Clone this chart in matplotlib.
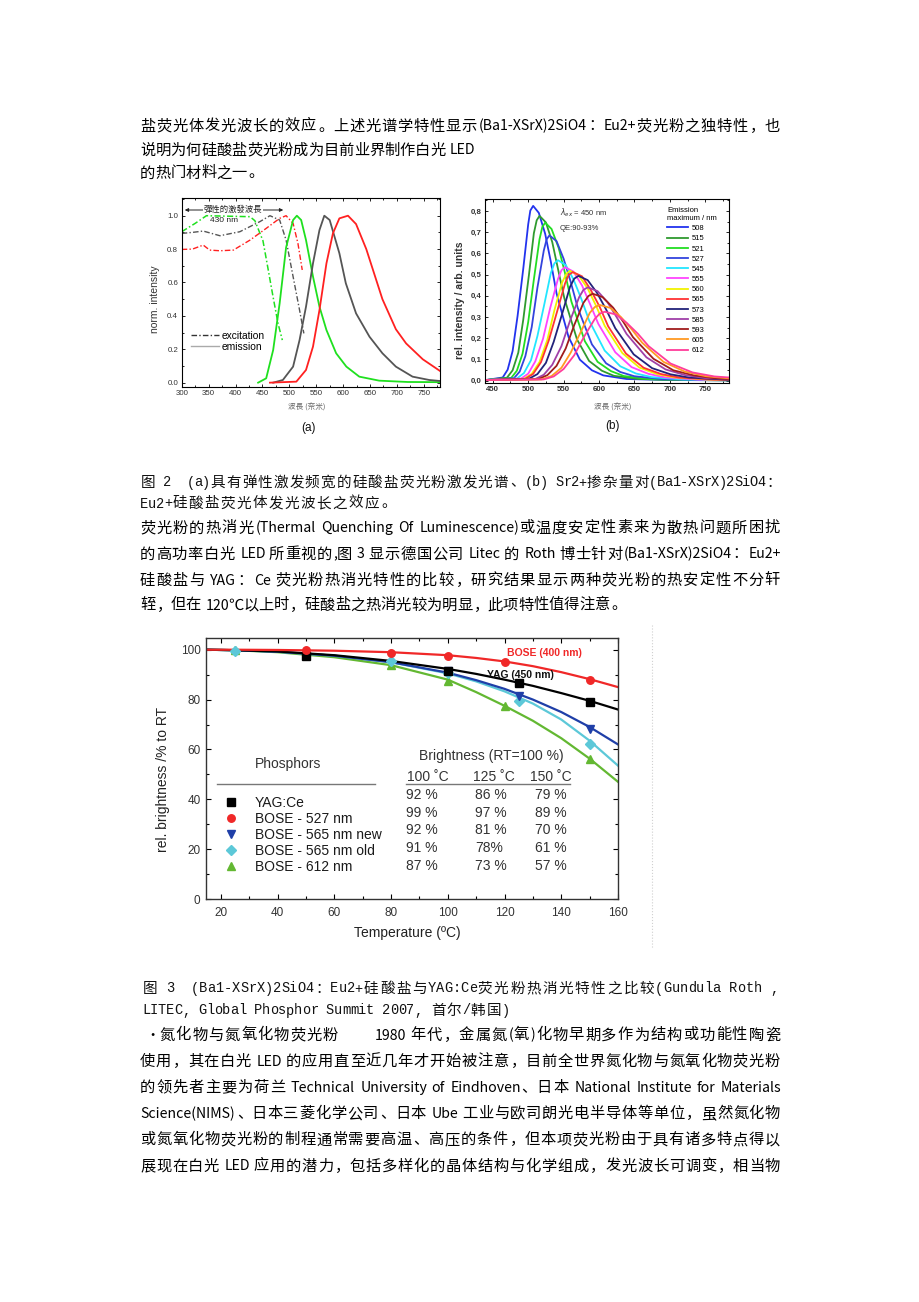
import matplotlib
matplotlib.use('Agg')
import matplotlib.pyplot as plt
from matplotlib.lines import Line2D
from matplotlib.patches import FancyArrowPatch
from matplotlib.ticker import MultipleLocator
from matplotlib.font_manager import FontProperties, findfont, get_font

W, H, DPI = 920, 1302, 100
SANS = 'Liberation Sans'
CJK = 'Noto Sans CJK SC'
CJK_TC = 'Noto Sans CJK TC'
MONO = 'Liberation Mono'
plt.rcParams['font.family'] = [SANS, CJK, 'DejaVu Sans']

# ====================== DATA ======================
# ---- document text ----
para1 = ["盐荧光体发光波长的效应。上述光谱学特性显示(Ba1-XSrX)2SiO4：Eu2+荧光粉之独特性，也",
         "说明为何硅酸盐荧光粉成为目前业界制作白光 LED",
         "的热门材料之一。"]
caption2 = ["图 2  (a)具有弹性激发频宽的硅酸盐荧光粉激发光谱、(b) Sr2+掺杂量对(Ba1-XSrX)2SiO4：",
            "Eu2+硅酸盐荧光体发光波长之效应。"]
para2 = ["荧光粉的热消光(Thermal Quenching Of Luminescence)或温度安定性素来为散热问题所困扰",
         "的高功率白光 LED 所重视的,图 3 显示德国公司 Litec 的 Roth 博士针对(Ba1-XSrX)2SiO4：Eu2+",
         "硅酸盐与 YAG：Ce 荧光粉热消光特性的比较，研究结果显示两种荧光粉的热安定性不分轩",
         "轾，但在 120℃以上时，硅酸盐之热消光较为明显，此项特性值得注意。"]
caption3 = ["图 3  (Ba1-XSrX)2SiO4：Eu2+硅酸盐与YAG:Ce荧光粉热消光特性之比较(Gundula Roth ,",
            "LITEC, Global Phosphor Summit 2007, 首尔/韩国)"]
para3 = ["· 氮化物与氮氧化物荧光粉        1980 年代，金属氮(氧)化物早期多作为结构或功能性陶瓷",
         "使用，其在白光 LED 的应用直至近几年才开始被注意，目前全世界氮化物与氮氧化物荧光粉",
         "的领先者主要为荷兰 Technical University of Eindhoven、日本 National Institute for Materials",
         "Science(NIMS)、日本三菱化学公司、日本 Ube 工业与欧司朗光电半导体等单位，虽然氮化物",
         "或氮氧化物荧光粉的制程通常需要高温、高压的条件，但本项荧光粉由于具有诸多特点得以",
         "展现在白光 LED 应用的潜力，包括多样化的晶体结构与化学组成，发光波长可调变，相当物"]

# ---- chart (a): normalized excitation / emission spectra ----
a_xticks = [300, 350, 400, 450, 500, 550, 600, 650, 700, 750]
a_yticks = [0.0, 0.2, 0.4, 0.6, 0.8, 1.0]
a_ytick_labels = ['0.0', '0.2', '0.4', '0.6', '0.8', '1.0']
a_exc_green_x = [300, 325, 346, 427, 436, 451, 460, 470, 479, 487]
a_exc_green_y = [0.904, 0.954, 1.0, 0.994, 0.97, 0.85, 0.69, 0.51, 0.355, 0.255]
a_exc_gray_x = [300, 320, 340, 371, 408, 445, 464, 482, 494, 507, 519, 527]
a_exc_gray_y = [0.894, 0.90, 0.908, 0.88, 0.904, 0.964, 1.0, 0.974, 0.854, 0.635, 0.435, 0.295]
a_exc_red_x = [300, 320, 340, 352, 371, 396, 427, 457, 482, 494, 507, 516, 524]
a_exc_red_y = [0.798, 0.80, 0.824, 0.794, 0.79, 0.794, 0.854, 0.924, 0.984, 1.0, 0.954, 0.834, 0.675]
a_em_green_x = [442, 457, 470, 482, 494, 507, 514, 522, 531, 544, 556, 569, 587, 606, 630, 667, 720, 780]
a_em_green_y = [0.0, 0.026, 0.196, 0.475, 0.81, 0.974, 1.0, 0.974, 0.854, 0.635, 0.455, 0.315, 0.176, 0.096, 0.036, 0.012, 0.004, 0.003]
a_em_gray_x = [470, 488, 507, 519, 531, 544, 556, 565, 575, 593, 605, 624, 649, 673, 698, 729, 760, 780]
a_em_gray_y = [0.0, 0.016, 0.096, 0.255, 0.455, 0.715, 0.914, 1.0, 0.974, 0.775, 0.595, 0.415, 0.275, 0.176, 0.096, 0.036, 0.016, 0.01]
a_em_red_x = [464, 513, 531, 544, 556, 569, 581, 593, 609, 624, 643, 655, 673, 698, 717, 748, 780]
a_em_red_y = [0.0, 0.006, 0.076, 0.216, 0.435, 0.715, 0.894, 0.984, 1.0, 0.95, 0.80, 0.68, 0.50, 0.32, 0.235, 0.14, 0.07]

# ---- chart (b): emission spectra vs Sr content ----
b_xticks = [450, 500, 550, 600, 650, 700, 750]
b_yticks = [0.0, 0.1, 0.2, 0.3, 0.4, 0.5, 0.6, 0.7, 0.8]
b_ytick_labels = ['0,0', '0,1', '0,2', '0,3', '0,4', '0,5', '0,6', '0,7', '0,8']
b_labels = ['508', '515', '521', '527', '545', '555', '560', '565', '573', '585', '593', '605', '612']
b_colors = ['#2233ee', '#2f9a2f', '#22dd22', '#3344dd', '#22e6ff', '#ff44ff', '#f2f200',
            '#ff3333', '#22227a', '#a040a8', '#a01c1c', '#ff9a22', '#ff3d9a']
b508_x = [440, 464, 471, 478, 485, 493, 500, 503, 507, 515, 524, 532, 540, 557, 573, 590, 606, 639, 700, 784]
b508_y = [0.003, 0.015, 0.052, 0.140, 0.305, 0.527, 0.737, 0.802, 0.824, 0.791, 0.692, 0.560, 0.412, 0.206, 0.099, 0.049, 0.025, 0.008, 0.003, 0.002]
b515_x = [440, 470, 478, 486, 493, 501, 508, 512, 516, 525, 534, 542, 551, 569, 586, 604, 621, 656, 720, 784]
b515_y = [0.003, 0.014, 0.049, 0.132, 0.287, 0.497, 0.695, 0.756, 0.777, 0.746, 0.653, 0.528, 0.389, 0.194, 0.093, 0.047, 0.023, 0.008, 0.003, 0.002]
b521_x = [440, 476, 484, 492, 500, 508, 516, 520, 524, 533, 543, 552, 561, 580, 598, 617, 635, 672, 730, 784]
b521_y = [0.003, 0.013, 0.047, 0.127, 0.276, 0.477, 0.667, 0.725, 0.745, 0.715, 0.626, 0.507, 0.373, 0.186, 0.089, 0.045, 0.022, 0.007, 0.003, 0.002]
b527_x = [440, 480, 488, 496, 505, 513, 522, 526, 530, 540, 550, 560, 570, 590, 610, 630, 650, 690, 740, 784]
b527_y = [0.003, 0.012, 0.043, 0.116, 0.253, 0.438, 0.613, 0.666, 0.685, 0.658, 0.575, 0.466, 0.343, 0.171, 0.082, 0.041, 0.021, 0.007, 0.003, 0.002]
b545_x = [440, 484, 494, 504, 513, 523, 532, 537, 542, 553, 564, 575, 586, 608, 630, 652, 674, 718, 784]
b545_y = [0.003, 0.010, 0.036, 0.097, 0.210, 0.364, 0.508, 0.553, 0.568, 0.545, 0.477, 0.386, 0.284, 0.142, 0.068, 0.034, 0.017, 0.006, 0.003]
b555_x = [440, 490, 500, 510, 521, 531, 542, 547, 552, 564, 576, 587, 599, 623, 646, 670, 693, 740, 784]
b555_y = [0.003, 0.010, 0.033, 0.091, 0.198, 0.342, 0.479, 0.521, 0.535, 0.514, 0.449, 0.364, 0.268, 0.134, 0.064, 0.032, 0.016, 0.005, 0.003]
b560_x = [440, 494, 505, 516, 527, 537, 548, 554, 559, 571, 584, 596, 608, 633, 657, 682, 706, 755, 784]
b560_y = [0.003, 0.009, 0.032, 0.088, 0.192, 0.332, 0.464, 0.504, 0.518, 0.497, 0.435, 0.352, 0.259, 0.130, 0.062, 0.031, 0.016, 0.005, 0.004]
b565_x = [440, 496, 507, 518, 529, 541, 552, 557, 563, 576, 588, 601, 613, 638, 663, 688, 713, 763, 784]
b565_y = [0.003, 0.009, 0.032, 0.087, 0.189, 0.328, 0.458, 0.498, 0.512, 0.492, 0.430, 0.348, 0.256, 0.128, 0.061, 0.031, 0.015, 0.005, 0.004]
b573_x = [440, 501, 513, 525, 536, 548, 559, 565, 571, 584, 597, 610, 623, 649, 675, 701, 727, 779, 784]
b573_y = [0.003, 0.009, 0.031, 0.084, 0.183, 0.316, 0.442, 0.481, 0.494, 0.474, 0.415, 0.336, 0.247, 0.124, 0.059, 0.030, 0.015, 0.005, 0.005]
b585_x = [440, 510, 522, 534, 547, 559, 572, 578, 584, 598, 612, 625, 639, 667, 694, 722, 749, 784]
b585_y = [0.003, 0.008, 0.028, 0.075, 0.163, 0.282, 0.394, 0.428, 0.440, 0.422, 0.370, 0.299, 0.220, 0.110, 0.053, 0.026, 0.013, 0.008]
b593_x = [440, 514, 527, 540, 553, 565, 578, 585, 591, 605, 620, 634, 648, 677, 705, 734, 762, 784]
b593_y = [0.003, 0.007, 0.026, 0.070, 0.152, 0.262, 0.367, 0.399, 0.410, 0.394, 0.344, 0.279, 0.205, 0.103, 0.049, 0.025, 0.012, 0.008]
b605_x = [440, 519, 533, 547, 560, 574, 587, 594, 601, 616, 631, 646, 661, 691, 721, 751, 784]
b605_y = [0.003, 0.006, 0.022, 0.061, 0.132, 0.228, 0.320, 0.347, 0.357, 0.343, 0.300, 0.243, 0.179, 0.089, 0.043, 0.021, 0.011]
b612_x = [440, 522, 536, 550, 565, 579, 594, 601, 608, 624, 639, 655, 670, 701, 732, 763, 784]
b612_y = [0.003, 0.006, 0.020, 0.055, 0.120, 0.208, 0.291, 0.316, 0.325, 0.312, 0.273, 0.221, 0.163, 0.081, 0.039, 0.020, 0.015]
b_series_x = [b508_x, b515_x, b521_x, b527_x, b545_x, b555_x, b560_x, b565_x, b573_x, b585_x, b593_x, b605_x, b612_x]
b_series_y = [b508_y, b515_y, b521_y, b527_y, b545_y, b555_y, b560_y, b565_y, b573_y, b585_y, b593_y, b605_y, b612_y]

# ---- chart 3: thermal quenching ----
c_xticks = [20, 40, 60, 80, 100, 120, 140, 160]
c_yticks = [0, 20, 40, 60, 80, 100]
c_fit_T = [15, 25, 40, 60, 80, 100, 110, 120, 130, 140, 150, 160]
c_fit_yag = [100, 99.8, 99.3, 97.8, 95.5, 92.3, 90.3, 88.0, 85.5, 82.6, 79.5, 76.0]
c_fit_527 = [100, 100, 99.9, 99.6, 99.0, 97.8, 96.7, 95.3, 93.4, 91.0, 88.2, 85.0]
c_fit_565new = [100, 99.8, 99.2, 97.6, 95.0, 90.8, 87.8, 84.3, 80.0, 75.0, 69.0, 62.0]
c_fit_565old = [100, 99.8, 99.2, 97.6, 95.0, 90.5, 87.3, 83.3, 78.4, 72.0, 63.5, 53.5]
c_fit_612 = [100, 99.8, 99.0, 97.0, 93.8, 88.0, 83.0, 77.5, 71.5, 64.5, 56.3, 47.0]
c_yag_T = [50, 100, 125, 150]
c_yag_v = [97.6, 91.3, 86.6, 79.1]
c_527_T = [50, 80, 100, 120, 150]
c_527_v = [99.8, 98.7, 97.6, 95.1, 88.0]
c_565new_T = [100, 125, 150]
c_565new_v = [91.3, 81.6, 68.3]
c_565old_T = [25, 80, 100, 125, 150]
c_565old_v = [99.3, 95.3, 90.6, 79.5, 62.3]
c_612_T = [25, 80, 100, 120, 150]
c_612_v = [100, 94.0, 87.3, 77.3, 56.1]
c_names = ['YAG:Ce', 'BOSE - 527 nm', 'BOSE - 565 nm new', 'BOSE - 565 nm old', 'BOSE - 612 nm']
c_markers = ['s', 'o', 'v', 'D', '^']
c_colors = ['#000000', '#f02828', '#1f3fa8', '#5cc8d8', '#63b832']
c_table_head = ['100 ˚C', '125 ˚C', '150 ˚C']
c_table_rows = [['92 %', '86 %', '79 %'],
                ['99 %', '97 %', '89 %'],
                ['92 %', '81 %', '70 %'],
                ['91 %', '78%', '61 %'],
                ['87 %', '73 %', '57 %']]

# ====================== FIGURE ======================
fig = plt.figure(figsize=(W / DPI, H / DPI), dpi=DPI)
fig.patch.set_facecolor('white')


def fx(x):
    return x / W


def fy(y):
    return 1 - y / H


def ftext(x, y, s, **kw):
    kw.setdefault('ha', 'left')
    kw.setdefault('va', 'center')
    return fig.text(fx(x), fy(y), s, **kw)


_paths = {}


def gmet(family, size, ch):
    p = _paths.get(family)
    if p is None:
        p = findfont(FontProperties(family=family))
        _paths[family] = p
    f = get_font(p)
    f.set_size(size, DPI)
    g = f.load_char(ord(ch))
    return g.linearHoriAdvance / 65536.0, g.horiBearingX / 64.0


def is_full(ch):
    return ord(ch) >= 0x2E80 or ch == '℃'


PUNCT = '，。、：；！？'


def tokenize(s):
    toks, buf = [], ''
    for ch in s:
        if is_full(ch) or ch == ' ':
            if buf:
                toks.append(buf)
                buf = ''
            toks.append(ch)
        else:
            buf += ch
    if buf:
        toks.append(buf)
    return toks


def body_line(x0, yb, s, size=11.0, lat_size=10.2, target=None, color='#000000'):
    em = size * DPI / 72.0
    toks = tokenize(s)
    widths = []
    for t in toks:
        if is_full(t[0]):
            widths.append(em)
        else:
            widths.append(sum(gmet(CJK, lat_size, c)[0] for c in t))
    extra = 0.0
    if target is not None and len(toks) > 1:
        extra = (target - sum(widths)) / (len(toks) - 1)
    x = x0
    for t, w in zip(toks, widths):
        if t != ' ':
            if is_full(t[0]):
                if t in PUNCT:
                    fig.text(fx(x + 0.08 * em), fy(yb), t, family=[CJK], fontsize=size,
                             ha='left', va='baseline', color=color)
                else:
                    fig.text(fx(x + w / 2), fy(yb), t, family=[CJK], fontsize=size,
                             ha='center', va='baseline', color=color)
            else:
                b = gmet(CJK, lat_size, t[0])[1]
                fig.text(fx(x + b), fy(yb), t, family=[CJK], fontsize=lat_size,
                         ha='left', va='baseline', color=color)
        x += w + extra


def cap_line(x0, yb, s, cell=16.0, size=10.5, lat_size=9.8, target=None, color='#111111'):
    widths = [cell if is_full(c) else cell / 2 for c in s]
    extra = 0.0
    if target is not None and len(s) > 1:
        extra = (target - sum(widths)) / (len(s) - 1)
    x = x0
    for c, w in zip(s, widths):
        if c != ' ':
            if is_full(c):
                if c in PUNCT:
                    fig.text(fx(x + 0.1 * cell), fy(yb), c, family=[CJK], fontsize=size,
                             fontweight='light', ha='left', va='baseline', color=color)
                else:
                    fig.text(fx(x + w / 2), fy(yb), c, family=[CJK], fontsize=size,
                             fontweight='light', ha='center', va='baseline', color=color)
            else:
                fig.text(fx(x + w / 2), fy(yb), c, family=[MONO, CJK], fontsize=lat_size,
                         ha='center', va='baseline', color=color)
        x += w + extra


# ---- document text ----
body_line(140, 130.5, para1[0], target=640)
body_line(140, 154.5, para1[1])
body_line(140, 177.5, para1[2])
cap_line(140, 486.5, caption2[0], target=641)
cap_line(140, 507.5, caption2[1])
body_line(140, 532.5, para2[0], target=640)
body_line(140, 558.5, para2[1], target=640)
body_line(140, 584.5, para2[2], target=640)
body_line(140, 609.5, para2[3])
cap_line(142, 992.5, caption3[0], target=636)
cap_line(142, 1014.5, caption3[1])
for i, line in enumerate(para3):
    body_line(140, 1039.5 + i * 26.2, line, target=640)

# ====================== CHART (a) ======================
GREEN_A, GRAY_A, RED_A = '#1fe01f', '#555555', '#ff2020'
DD = (0, (4, 1.6, 1, 1.6))
axa = fig.add_axes([fx(181.7), fy(387.0), (440.0 - 181.7) / W, (387.0 - 198.0) / H])
axa.plot(a_exc_green_x, a_exc_green_y, color=GREEN_A, lw=1.1, ls=DD)
axa.plot(a_exc_gray_x, a_exc_gray_y, color=GRAY_A, lw=1.0, ls=DD)
axa.plot(a_exc_red_x, a_exc_red_y, color=RED_A, lw=1.0, ls=DD)
axa.plot(a_em_green_x, a_em_green_y, color=GREEN_A, lw=1.3)
axa.plot(a_em_gray_x, a_em_gray_y, color=GRAY_A, lw=1.3)
axa.plot(a_em_red_x, a_em_red_y, color=RED_A, lw=1.3)
axa.set_xlim(300, 780)
axa.set_ylim(-0.026, 1.106)
axa.set_xticks(a_xticks)
axa.set_xticklabels([str(v) for v in a_xticks])
axa.set_yticks(a_yticks)
axa.set_yticklabels(a_ytick_labels)
axa.xaxis.set_minor_locator(MultipleLocator(25))
axa.yaxis.set_minor_locator(MultipleLocator(0.1))
axa.tick_params(which='both', direction='in', top=True, right=True, width=0.6,
                labelsize=5.7, labelcolor='#333333', pad=2.5)
axa.tick_params(which='major', length=2.5)
axa.tick_params(which='minor', length=1.3)
for sp in axa.spines.values():
    sp.set_linewidth(0.8)
axa.legend([Line2D([], [], color='#333333', lw=1.0, ls=DD), Line2D([], [], color='#aaaaaa', lw=1.0)],
           ['excitation', 'emission'], loc='upper left', bbox_to_anchor=(fx(191), fy(331)),
           bbox_transform=fig.transFigure, frameon=False, fontsize=7.4, handlelength=2.7,
           handletextpad=0.25, labelspacing=0.05, borderpad=0, borderaxespad=0)
ftext(155, 299, 'norm. intensity', rotation=90, ha='center', fontsize=7.5, color='#333333')
ftext(307, 408, '波長 (奈米)', ha='center', family=[CJK_TC, 'DejaVu Sans'], fontsize=5.5, color='#666666')
ftext(309, 428, '(a)', ha='center', fontsize=8.5, color='#111111')
fig.add_artist(FancyArrowPatch(posA=(fx(182), fy(210)), posB=(fx(286), fy(210)), transform=fig.transFigure,
                               arrowstyle='<|-|>', mutation_scale=5, lw=0.7, color='#222222'))
ftext(233, 209, '彈性的激發波長', ha='center', family=[CJK_TC, 'DejaVu Sans'], fontsize=6, color='#222222',
      bbox=dict(facecolor='white', edgecolor='none', pad=0.3))
ftext(224, 221, '430 nm', ha='center', fontsize=6, color='#222222')

# ====================== CHART (b) ======================
axb = fig.add_axes([fx(485.0), fy(383.3), (729.3 - 485.0) / W, (383.3 - 199.3) / H])
handles_b = []
for xs, ys, col in zip(b_series_x, b_series_y, b_colors):
    ln, = axb.plot(xs, ys, color=col, lw=1.3)
    handles_b.append(ln)
axb.set_xlim(439, 784)
axb.set_ylim(-0.0123, 0.855)
axb.set_xticks(b_xticks)
axb.set_xticklabels([str(v) for v in b_xticks], fontweight='bold')
axb.set_yticks(b_yticks)
axb.set_yticklabels(b_ytick_labels, fontweight='bold')
axb.xaxis.set_minor_locator(MultipleLocator(25))
axb.yaxis.set_minor_locator(MultipleLocator(0.05))
axb.tick_params(which='both', direction='in', top=True, right=True, width=0.6,
                labelsize=5.7, labelcolor='#333333', pad=2.2)
axb.tick_params(which='major', length=2.5)
axb.tick_params(which='minor', length=1.3)
for sp in axb.spines.values():
    sp.set_linewidth(0.8)
axb.legend(handles_b, b_labels, loc='upper left', bbox_to_anchor=(fx(667), fy(207)),
           bbox_transform=fig.transFigure, frameon=False, fontsize=5.5,
           title='Emission\nmaximum / nm', title_fontsize=5.5, alignment='left',
           handlelength=2.8, handletextpad=0.4, labelspacing=0.37, borderpad=0, borderaxespad=0)
ftext(560, 213, r'$\lambda_{ex}$ = 450 nm', fontsize=5.5, color='#333333')
ftext(560, 228, 'QE:90-93%', fontsize=5.5, color='#333333')
ftext(460, 300, 'rel. intensity / arb. units', rotation=90, ha='center', fontsize=7.5,
      fontweight='bold', color='#333333')
ftext(613, 408, '波長 (奈米)', ha='center', family=[CJK_TC, 'DejaVu Sans'], fontsize=5.5, color='#666666')
ftext(613, 426, '(b)', ha='center', fontsize=8.5, color='#111111')

# ====================== CHART 3 ======================
axc = fig.add_axes([fx(206), fy(899), (618 - 206) / W, (899 - 638) / H])
fits = [c_fit_612, c_fit_565old, c_fit_565new, c_fit_yag, c_fit_527]
fit_cols = [c_colors[4], c_colors[3], c_colors[2], c_colors[0], c_colors[1]]
for ys, col in zip(fits, fit_cols):
    axc.plot(c_fit_T, ys, color=col, lw=1.6, zorder=2)
pts = [(c_612_T, c_612_v, 4), (c_565old_T, c_565old_v, 3), (c_565new_T, c_565new_v, 2),
       (c_yag_T, c_yag_v, 0), (c_527_T, c_527_v, 1)]
for ts, vs, k in pts:
    ms = 4.6 if c_markers[k] == 'D' else 5.4
    axc.plot(ts, vs, ls='none', marker=c_markers[k], color=c_colors[k], ms=ms, zorder=3)
axc.set_xlim(14.8, 160)
axc.set_ylim(0, 104.7)
axc.set_xticks(c_xticks)
axc.set_yticks(c_yticks)
axc.xaxis.set_minor_locator(MultipleLocator(10))
axc.yaxis.set_minor_locator(MultipleLocator(10))
axc.tick_params(which='both', direction='in', top=True, right=True, width=0.8,
                labelsize=8.5, labelcolor='#333333')
axc.tick_params(which='major', length=3.5)
axc.tick_params(which='minor', length=2)
axc.tick_params(axis='x', pad=6)
axc.tick_params(axis='y', pad=4)
for sp in axc.spines.values():
    sp.set_linewidth(1.0)
    sp.set_color('#333333')
axc.text(121, 98.8, 'BOSE (400 nm)', color='#f02828', fontsize=7.5, fontweight='bold', va='center')
axc.text(114, 90.0, 'YAG (450 nm)', color='#111111', fontsize=7.5, fontweight='bold', va='center')
leg_handles = [Line2D([], [], ls='none', marker=m, color=c, ms=(4.6 if m == 'D' else 5.4))
               for m, c in zip(c_markers, c_colors)]
axc.legend(leg_handles, c_names, loc='upper left', bbox_to_anchor=(fx(224), fy(796)),
           bbox_transform=fig.transFigure, frameon=False, fontsize=10, handlelength=1.0,
           handletextpad=1.2, labelspacing=0.15, borderpad=0, borderaxespad=0, labelcolor='#1a1a1a')
ftext(255, 764, 'Phosphors', fontsize=10, color='#333333')
ftext(419, 756, 'Brightness (RT=100 %)', fontsize=10, color='#333333')
for hx, h in zip([407, 473, 530], c_table_head):
    ftext(hx, 777, h, fontsize=10, color='#333333')
for ry, row in zip([795, 813, 830, 848, 866], c_table_rows):
    for cx, v in zip([406, 475, 535], row):
        ftext(cx, ry, v, fontsize=10, color='#333333')
fig.add_artist(Line2D([fx(217), fx(375)], [fy(784), fy(784)], transform=fig.transFigure, color='#777777', lw=1.0))
fig.add_artist(Line2D([fx(406), fx(570)], [fy(784), fy(784)], transform=fig.transFigure, color='#777777', lw=1.0))
ftext(163, 779, 'rel. brightness /% to RT', rotation=90, ha='center', fontsize=10, color='#222222')
ftext(407, 933, 'Temperature (ºC)', ha='center', fontsize=10, color='#222222')
fig.add_artist(Line2D([fx(652), fx(652)], [fy(625), fy(948)], transform=fig.transFigure,
                      color='#d0d0d0', lw=0.8, ls=':'))

fig.savefig('out.png', dpi=DPI, facecolor='white')
